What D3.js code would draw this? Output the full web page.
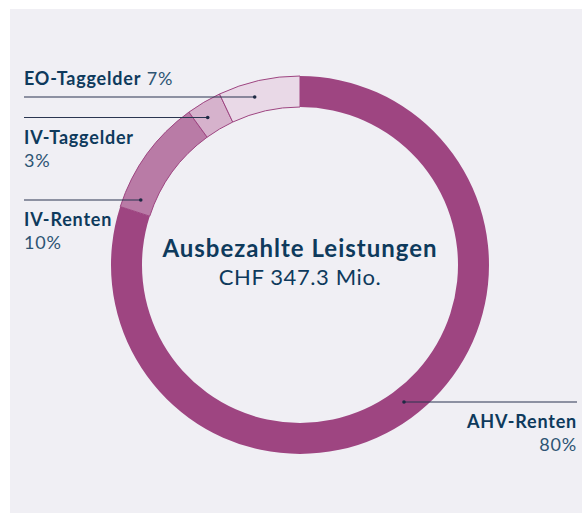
<!DOCTYPE html>
<html>
<head>
<meta charset="utf-8">
<script src="https://cdn.jsdelivr.net/npm/d3@7"></script>
<style>
  html, body { margin: 0; padding: 0; background: #fff; }
  svg { display: block; font-family: Lato, "Noto Sans", sans-serif; }
</style>
</head>
<body>
<div id="chart"></div>
<script>
// values (share of paid benefits, %)
const categories = ["AHV-Renten", "IV-Renten", "IV-Taggelder", "EO-Taggelder"];
const shares = [80, 10, 3, 7];
const shareLabels = ["80%", "10%", "3%", "7%"];
const sliceColors = ["#9e4581", "#b97ba6", "#d6b2cc", "#e9d9e7"];
const centerTitle = "Ausbezahlte Leistungen";
const centerValue = "CHF 347.3 Mio.";

window.onload = function() {
  drawDonut();
};

function drawDonut() {
  const width = 582, height = 513;
  const cx = 300, cy = 265;
  const outerR = 189, innerR = 158;
  const navy = "#0e3a5c";

  const svg = d3.select("#chart").append("svg")
    .attr("width", width)
    .attr("height", height);

  // panel background
  svg.append("rect")
    .attr("x", 10).attr("y", 9)
    .attr("width", width - 10).attr("height", height - 9)
    .attr("fill", "#f0eff4");

  const data = categories.map((c, i) => ({ name: c, value: shares[i], label: shareLabels[i], color: sliceColors[i] }));

  const pie = d3.pie().value(d => d.value).sort(null);
  const arc = d3.arc().innerRadius(innerR).outerRadius(outerR);
  const arcs = pie(data);

  const g = svg.append("g").attr("transform", `translate(${cx},${cy})`);

  g.selectAll("path")
    .data(arcs)
    .join("path")
    .attr("d", arc)
    .attr("fill", d => d.data.color)
    .attr("stroke", "#9e4581")
    .attr("stroke-width", d => d.index == 0 ? 0 : 1);

  // leader lines: y of each line and where the dot sits on the ring
  const leaders = [
    { i: 3, y: 97, x0: 24, r: 174, side: "left" },
    { i: 2, y: 117.5, x0: 24, r: 174, side: "left" },
    { i: 1, y: 200, x0: 24, r: 172, side: "left" },
    { i: 0, y: 402, x0: 577, r: 172, side: "right" }
  ];

  leaders.forEach(l => {
    const dy = l.y - cy;
    let dx = Math.sqrt(l.r * l.r - dy * dy);
    if (l.side == "left") dx = -dx;
    const xe = cx + dx;
    svg.append("line")
      .attr("x1", l.x0).attr("x2", xe)
      .attr("y1", l.y).attr("y2", l.y)
      .attr("stroke", "#2a3550")
      .attr("stroke-width", 1.2);
    svg.append("circle")
      .attr("cx", xe).attr("cy", l.y).attr("r", 1.8)
      .attr("fill", "#1e2a44");
  });

  // labels
  const lab = svg.append("g").attr("fill", navy)
    .style("font-size", "18px")
    .style("letter-spacing", "0.8px");
  const numColor = "#2d5473";

  let t = lab.append("text").attr("x", 24).attr("y", 85);
  t.append("tspan").attr("font-weight", 700).text(data[3].name);
  t.append("tspan").attr("font-weight", 400).attr("fill", numColor).text(" " + data[3].label);

  lab.append("text").attr("x", 24).attr("y", 144).attr("font-weight", 700).text(data[2].name);
  lab.append("text").attr("x", 24).attr("y", 167).attr("fill", numColor).text(data[2].label);

  lab.append("text").attr("x", 24).attr("y", 226).attr("font-weight", 700).text(data[1].name);
  lab.append("text").attr("x", 24).attr("y", 249).attr("fill", numColor).text(data[1].label);

  lab.append("text").attr("x", 577).attr("y", 428).attr("text-anchor", "end").attr("font-weight", 700).text(data[0].name);
  lab.append("text").attr("x", 577).attr("y", 451).attr("text-anchor", "end").attr("fill", numColor).text(data[0].label);

  // center text
  svg.append("text")
    .attr("x", cx).attr("y", 257)
    .attr("text-anchor", "middle")
    .attr("fill", navy)
    .attr("font-weight", 700)
    .style("font-size", "24px")
    .style("letter-spacing", "1px")
    .text(centerTitle);
  svg.append("text")
    .attr("x", cx).attr("y", 285)
    .attr("text-anchor", "middle")
    .attr("fill", navy)
    .style("font-size", "22px")
    .style("letter-spacing", "0.6px")
    .text(centerValue);
}
</script>
</body>
</html>
